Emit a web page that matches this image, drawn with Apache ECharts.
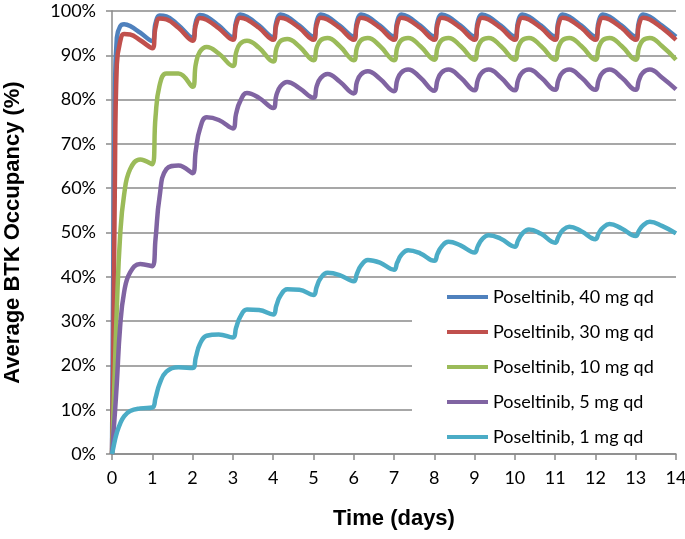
<!DOCTYPE html>
<html>
<head>
<meta charset="utf-8">
<script src="https://cdn.jsdelivr.net/npm/echarts@6/dist/echarts.min.js"></script>
<style>
  html, body { margin: 0; padding: 0; background: #fff; }
  #chart { width: 685px; height: 539px; }
</style>
</head>
<body>
<div id="chart"></div>
<script>
// sample times (days); day 0 sampled finer because the first rise is steep
var times = [0, 0.03, 0.07, 0.12, 0.2, 0.3, 0.45, 0.7,
  1, 1.08, 1.18, 1.35, 1.65,
  2, 2.08, 2.18, 2.35, 2.65,
  3, 3.08, 3.18, 3.35, 3.65,
  4, 4.08, 4.18, 4.35, 4.65,
  5, 5.08, 5.18, 5.35, 5.65,
  6, 6.08, 6.18, 6.35, 6.65,
  7, 7.08, 7.18, 7.35, 7.65,
  8, 8.08, 8.18, 8.35, 8.65,
  9, 9.08, 9.18, 9.35, 9.65,
  10, 10.08, 10.18, 10.35, 10.65,
  11, 11.08, 11.18, 11.35, 11.65,
  12, 12.08, 12.18, 12.35, 12.65,
  13, 13.08, 13.18, 13.35, 13.65,
  14]

var names = ['Poseltinib, 40 mg qd', 'Poseltinib, 30 mg qd', 'Poseltinib, 10 mg qd', 'Poseltinib, 5 mg qd', 'Poseltinib, 1 mg qd']
var colors = ['#4F81BD', '#C0504D', '#9BBB59', '#8064A2', '#4BACC6']

var occ40 = [0, 40, 80, 94, 96.5, 97.0, 96.6, 95.1,
  93.2, 97.2, 99.0, 98.8, 96.8,
  94.0, 97.5, 99.1, 98.7, 96.7,
  94.1, 97.6, 99.2, 98.7, 96.7,
  94.1, 97.6, 99.2, 98.7, 96.7,
  94.2, 97.6, 99.2, 98.7, 96.7,
  94.2, 97.6, 99.2, 98.7, 96.7,
  94.2, 97.6, 99.2, 98.7, 96.7,
  94.2, 97.6, 99.2, 98.7, 96.7,
  94.2, 97.6, 99.2, 98.7, 96.7,
  94.2, 97.6, 99.2, 98.7, 96.7,
  94.2, 97.6, 99.2, 98.7, 96.7,
  94.2, 97.6, 99.2, 98.7, 96.7,
  94.2, 97.6, 99.2, 98.7, 96.7,
  94.2]

var occ30 = [0, 20, 60, 88, 93, 94.8, 94.7, 93.4,
  91.6, 96.2, 98.3, 98.1, 96.2,
  93.3, 96.8, 98.4, 98.0, 96.1,
  93.5, 96.9, 98.5, 98.1, 96.2,
  93.5, 96.9, 98.5, 98.1, 96.2,
  93.5, 96.9, 98.5, 98.1, 96.2,
  93.5, 96.9, 98.5, 98.1, 96.2,
  93.5, 96.9, 98.5, 98.1, 96.2,
  93.5, 96.9, 98.5, 98.1, 96.2,
  93.5, 96.9, 98.5, 98.1, 96.2,
  93.5, 96.9, 98.5, 98.1, 96.2,
  93.5, 96.9, 98.5, 98.1, 96.2,
  93.5, 96.9, 98.5, 98.1, 96.2,
  93.5, 96.9, 98.5, 98.1, 96.2,
  93.5]

var occ10 = [0, 8, 19, 33, 49, 58.5, 64.3, 66.5,
  65.4, 76.0, 83.2, 85.9, 85.9,
  82.9, 88.0, 90.8, 91.9, 90.4,
  87.6, 90.6, 92.6, 93.3, 91.7,
  88.6, 91.5, 93.2, 93.7, 92.0,
  88.9, 91.7, 93.4, 93.9, 92.1,
  88.9, 91.7, 93.4, 93.9, 92.1,
  88.9, 91.7, 93.4, 93.9, 92.1,
  89.0, 91.7, 93.4, 93.9, 92.1,
  89.0, 91.7, 93.4, 93.9, 92.1,
  89.0, 91.7, 93.4, 93.9, 92.1,
  89.0, 91.7, 93.4, 93.9, 92.1,
  89.0, 91.7, 93.4, 93.9, 92.1,
  89.0, 91.7, 93.4, 93.9, 92.1,
  89.0]

var occ5 = [0, 4, 9, 16, 28.5, 36.5, 41, 42.9,
  42.4, 48.5, 58.0, 64.3, 65.1,
  63.4, 68.5, 73.3, 76.0, 75.4,
  73.5, 76.8, 79.6, 81.5, 80.4,
  78.1, 81.0, 83.0, 84.0, 82.6,
  80.4, 83.0, 84.9, 85.8, 84.1,
  81.4, 84.0, 85.7, 86.4, 84.7,
  81.9, 84.4, 86.1, 86.8, 85.0,
  82.0, 84.4, 86.1, 86.8, 85.0,
  82.1, 84.4, 86.1, 86.8, 85.0,
  82.1, 84.4, 86.1, 86.8, 85.0,
  82.2, 84.4, 86.1, 86.8, 85.0,
  82.2, 84.4, 86.1, 86.8, 85.0,
  82.2, 84.4, 86.1, 86.8, 85.0,
  82.3]

var occ1 = [0, 1.3, 3, 4.8, 6.8, 8.5, 9.7, 10.3,
  10.5, 12.6, 15.8, 18.6, 19.6,
  19.4, 21.8, 24.8, 26.7, 27.0,
  26.3, 28.5, 30.9, 32.6, 32.5,
  31.5, 33.5, 35.7, 37.2, 37.1,
  35.9, 37.7, 39.7, 40.9, 40.4,
  39.0, 40.7, 42.5, 43.8, 43.2,
  41.6, 43.2, 44.9, 46.0, 45.3,
  43.6, 45.2, 46.8, 47.9, 47.1,
  45.5, 46.9, 48.4, 49.4, 48.6,
  46.8, 48.2, 49.7, 50.7, 49.7,
  47.7, 49.0, 50.4, 51.3, 50.3,
  48.5, 49.8, 51.0, 51.9, 50.9,
  49.2, 50.4, 51.6, 52.4, 51.5,
  49.8]

var allSeries = [occ40, occ30, occ10, occ5, occ1]

var labelFont = 'Lato'
var gray = '#8a8a8a'

var myChart = echarts.init(document.getElementById('chart'), null, { renderer: 'canvas' })

var series = allSeries.map(function (vals, i) {
  return {
    name: names[i],
    type: 'line',
    data: times.map(function (t, k) { return [t, vals[k]] }),
    showSymbol: false,
    smooth: 0.45,
    lineStyle: { width: 4.5, color: colors[i] },
    itemStyle: { color: colors[i] },
    animation: false
  }
})

var option = {
  backgroundColor: '#fff',
  animation: false,
  grid: { left: 112, right: 9, top: 11, bottom: 85, outerBoundsMode: 'none', containLabel: false },
  legend: {
    orient: 'vertical',
    left: 412,
    top: 281,
    padding: [6, 25, 6, 35],
    backgroundColor: '#fff',
    itemWidth: 41,
    itemHeight: 4,
    itemGap: 15,
    icon: 'rect',
    selectedMode: false,
    textStyle: { fontFamily: labelFont, fontSize: 18, color: '#000', lineHeight: 20 },
    data: names
  },
  xAxis: {
    type: 'value',
    min: 0,
    max: 14,
    interval: 1,
    name: 'Time (days)',
    nameLocation: 'middle',
    nameGap: 54,
    nameTextStyle: { fontFamily: 'Liberation Sans', fontWeight: 'bold', fontSize: 22, color: '#000' },
    axisLine: { show: true, lineStyle: { color: gray, width: 1.5 } },
    axisTick: { show: true, length: 6, lineStyle: { color: gray, width: 1.5 } },
    axisLabel: { fontFamily: labelFont, fontSize: 18, color: '#000', margin: 15 },
    splitLine: { show: false }
  },
  yAxis: {
    type: 'value',
    min: 0,
    max: 100,
    interval: 10,
    name: 'Average BTK Occupancy (%)',
    nameLocation: 'middle',
    nameGap: 88,
    nameTextStyle: { fontFamily: 'Liberation Sans', fontWeight: 'bold', fontSize: 22, color: '#000' },
    axisLine: { show: true, lineStyle: { color: gray, width: 1.5 } },
    axisTick: { show: true, length: 6, lineStyle: { color: gray, width: 1.5 } },
    axisLabel: { fontFamily: labelFont, fontSize: 18, color: '#000', margin: 16, formatter: '{value}%' },
    splitLine: { show: true, lineStyle: { color: gray, width: 1.5 } }
  },
  series: series
}

myChart.setOption(option)
</script>
</body>
</html>
